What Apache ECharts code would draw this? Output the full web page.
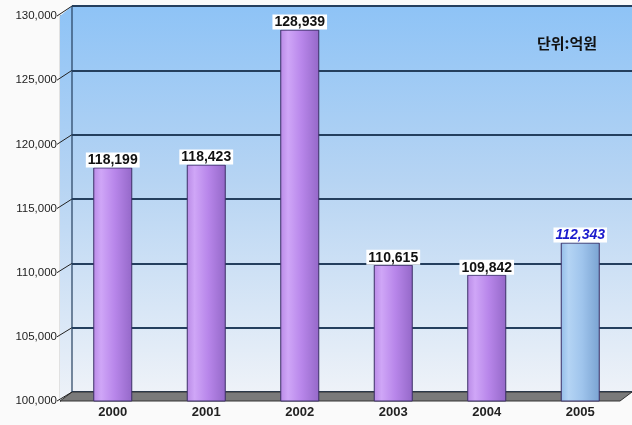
<!DOCTYPE html>
<html><head><meta charset="utf-8">
<script src="https://cdn.jsdelivr.net/npm/echarts@6/dist/echarts.min.js"></script>
<style>html,body{margin:0;padding:0;background:#fafafa}#c{width:632px;height:425px}</style>
</head><body><div id="c"></div>
<script>
const years = ['2000', '2001', '2002', '2003', '2004', '2005'];
const values = [118199, 118423, 128939, 110615, 109842, 112343];
const yMin = 100000, yMax = 130000, yStep = 5000;
const unitText = '단위:억원';

const chart = echarts.init(document.getElementById('c'));
const purple = new echarts.graphic.LinearGradient(0,0,1,0,[
  {offset:0,color:'#b98ae6'},{offset:0.2,color:'#cfa6f7'},{offset:0.55,color:'#b886ea'},{offset:1,color:'#9468c8'}]);
const blue = new echarts.graphic.LinearGradient(0,0,1,0,[
  {offset:0,color:'#93bde8'},{offset:0.2,color:'#b4d4f4'},{offset:0.55,color:'#9fc4ec'},{offset:1,color:'#7aa3d2'}]);
const wall = new echarts.graphic.LinearGradient(0,0,0,1,[
  {offset:0,color:'#8ec3f6'},{offset:0.45,color:'#b6d4f3'},{offset:1,color:'#eef2f8'}]);
const fmt = v => v.toLocaleString('en-US');
const last = values.length - 1;

chart.setOption({
  backgroundColor:'#fafafa',
  animation:false,
  grid:[
    {left:72, right:0, top:6, bottom:33, show:true, backgroundColor:wall, borderWidth:0},
    {left:60, right:12, top:16, bottom:24},
    {left:66, right:5, top:16, bottom:24}
  ],
  xAxis:[
    {gridIndex:0, type:'category', data:years, show:false},
    {gridIndex:1, type:'category', data:years, show:false},
    {gridIndex:2, type:'category', data:years, axisLine:{show:false}, axisTick:{show:false},
     axisLabel:{margin:5, fontFamily:'Liberation Sans, Arial', fontWeight:'bold', fontSize:13, color:'#222'}}
  ],
  yAxis:[
    {gridIndex:0, min:yMin, max:yMax, interval:yStep, axisLabel:{show:false}, axisLine:{show:false}, axisTick:{show:false},
     splitLine:{lineStyle:{color:'#243f5e', width:2}}},
    {gridIndex:1, min:yMin, max:yMax, interval:yStep,
     axisLine:{show:true, lineStyle:{color:'#111', width:1.2}}, axisTick:{show:false}, splitLine:{show:false},
     axisLabel:{margin:3, fontFamily:'Liberation Sans, Arial', fontSize:11.5, color:'#222', formatter:v=>fmt(v)}},
    {gridIndex:2, min:yMin, max:yMax, interval:yStep, show:false}
  ],
  series:[
    {type:'bar', xAxisIndex:2, yAxisIndex:2, barWidth:39, z:5,
     data: values.map((v,i)=>({value:v, itemStyle:{color: i===last?blue:purple, borderColor:'#3b2f66', borderWidth:1},
       label: i===last ? {color:'#1a1acc', fontStyle:'italic'} : {}})),
     label:{show:true, position:'top', distance:0, backgroundColor:'#fff', padding:[1,2,0,2],
       fontFamily:'Liberation Sans, Arial', fontWeight:'bold', fontSize:14, color:'#111', formatter:p=>fmt(p.value)}},
    {type:'pictorialBar', xAxisIndex:2, yAxisIndex:2, symbol:'circle', symbolSize:[39,8], symbolPosition:'start',
     symbolOffset:[0,'50%'], z:4,
     data: values.map((v,i)=>({value:v, itemStyle:{color: i===last?'#8fb6e2':'#a97ddc', borderColor:'#3b2f66', borderWidth:1}}))}
  ]
});

function drawDeco(){
  const pf = v => chart.convertToPixel({yAxisIndex:1}, v);
  const pb = v => chart.convertToPixel({yAxisIndex:0}, v);
  const xf = 60, xb = 72, W = 632;
  const els = [];
  els.push({type:'polygon', z:1, shape:{points:[[xf,pf(yMax)],[xb,pb(yMax)],[xb,pb(yMin)],[xf,pf(yMin)]]}, style:{fill:wall}});
  els.push({type:'polygon', z:2, shape:{points:[[xf,pf(yMin)],[xb,pb(yMin)],[W,pb(yMin)],[W-12,pf(yMin)]]},
    style:{fill:'#7a7a7a', stroke:'#333', lineWidth:1}});
  for(let v=yMin; v<=yMax; v+=yStep){
    els.push({type:'line', z:3, shape:{x1:xf-3,y1:pf(v),x2:xb,y2:pb(v)}, style:{stroke:'#222', lineWidth:1}});
  }
  els.push({type:'line', z:3, shape:{x1:xb,y1:pb(yMax),x2:xb,y2:pb(yMin)}, style:{stroke:'#243f5e', lineWidth:1.2}});
  els.push({type:'line', z:3, shape:{x1:xb,y1:pb(yMax),x2:W,y2:pb(yMax)}, style:{stroke:'#243f5e', lineWidth:2}});
  els.push({type:'text', z:6, style:{text:unitText, x:537, y:36, fill:'#111', font:'bold 15px "Noto Sans CJK KR", sans-serif'}});
  chart.setOption({graphic:els});
}
drawDeco();
</script></body></html>
